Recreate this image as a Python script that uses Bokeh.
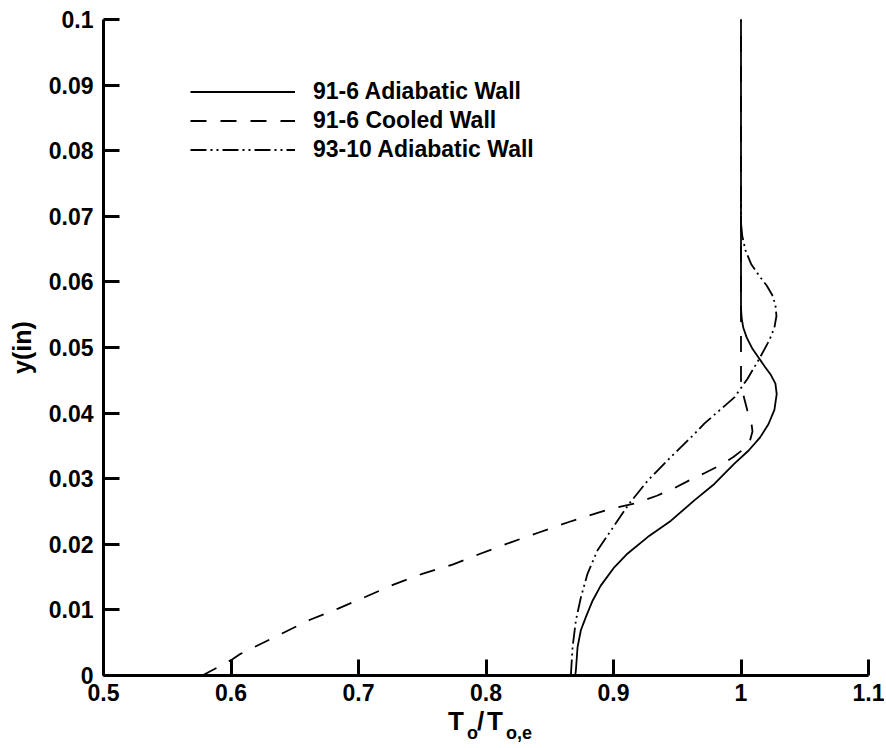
from bokeh.plotting import figure
from bokeh.models import Range1d, Legend, LegendItem, Label, FixedTicker
from bokeh.embed import file_html
from bokeh.resources import INLINE

# ---- data ----
adiab_91_x = [0.870, 0.8705, 0.8718, 0.8744, 0.8783, 0.8836, 0.890, 0.9006, 0.9111, 0.9268,
              0.9451, 0.9634, 0.9791, 0.9948, 1.0060, 1.0150, 1.0215, 1.0262, 1.0280, 1.0270,
              1.0235, 1.0190, 1.0144, 1.0090, 1.0045, 1.0018, 1.0005, 1.0, 1.0, 1.0]
adiab_91_y = [0.0, 0.0008, 0.0043, 0.0069, 0.0089, 0.0114, 0.0137, 0.0165, 0.0186, 0.0211,
              0.0236, 0.0267, 0.0292, 0.0323, 0.0343, 0.0363, 0.0383, 0.0405, 0.0429, 0.0445,
              0.0458, 0.0470, 0.0483, 0.0498, 0.0515, 0.0530, 0.0545, 0.0560, 0.0700, 0.1000]

cooled_91_x = [0.5775, 0.5997, 0.6075, 0.618, 0.640, 0.662, 0.684, 0.7057, 0.728, 0.750,
               0.7737, 0.796, 0.8195, 0.8415, 0.865, 0.8875, 0.900, 0.918, 0.934, 0.948,
               0.960, 0.972, 0.984, 0.994, 1.002, 1.007, 1.009, 1.008, 1.005, 1.0026, 1.0008,
               1.0, 1.0, 1.0]
cooled_91_y = [0.0, 0.0023, 0.0033, 0.0043, 0.0064, 0.0085, 0.0102, 0.0120, 0.0139, 0.0155,
               0.0169, 0.0186, 0.0203, 0.0218, 0.0234, 0.0248, 0.0255, 0.0263, 0.0274, 0.0286,
               0.0298, 0.0309, 0.0321, 0.0333, 0.0345, 0.0358, 0.0372, 0.0388, 0.0404, 0.0422,
               0.0436, 0.0450, 0.0600, 0.1000]

adiab_93_x = [0.8666, 0.8668, 0.8679, 0.8705, 0.8744, 0.8796, 0.8875, 0.898, 0.9123, 0.9268,
              0.945, 0.9634, 0.9712, 0.9830, 0.9948, 1.0050, 1.0144, 1.0222, 1.0262, 1.0278,
              1.0270, 1.0245, 1.0200, 1.0140, 1.0080, 1.0035, 1.0010, 1.0, 1.0]
adiab_93_y = [0.0, 0.0008, 0.0043, 0.0084, 0.0119, 0.0155, 0.0191, 0.0221, 0.0262, 0.0297,
              0.0333, 0.0368, 0.0384, 0.0404, 0.0424, 0.0452, 0.0483, 0.0511, 0.0530, 0.0548,
              0.0565, 0.0580, 0.0595, 0.0610, 0.0627, 0.0648, 0.0670, 0.0690, 0.0720]

series_names = ["91-6 Adiabatic Wall", "91-6 Cooled Wall", "93-10 Adiabatic Wall"]

x_ticks = [0.5, 0.6, 0.7, 0.8, 0.9, 1.0, 1.1]
x_tick_labels = ["0.5", "0.6", "0.7", "0.8", "0.9", "1", "1.1"]
y_ticks = [0.0, 0.01, 0.02, 0.03, 0.04, 0.05, 0.06, 0.07, 0.08, 0.09, 0.1]
y_tick_labels = ["0", "0.01", "0.02", "0.03", "0.04", "0.05", "0.06", "0.07", "0.08", "0.09", "0.1"]

FONT = "Liberation Sans"

# The axes box (0.5..1.1 x 0..0.1) spans 765 x 656 px; the frame is widened to the
# whole canvas so that tick labels and the subscripted x title are not clipped.
W, H = 884, 748
BOX_L, BOX_T, BOX_W, BOX_H = 103, 19, 765, 656
sx = BOX_W / 0.6
sy = BOX_H / 0.1
X0 = 0.5 - BOX_L / sx
X1 = 1.1 + (W - BOX_L - BOX_W) / sx
Y1 = 0.1 + BOX_T / sy
Y0 = 0.0 - (H - BOX_T - BOX_H) / sy

p = figure(width=W, height=H, output_backend="svg", toolbar_location=None,
           x_range=Range1d(X0, X1), y_range=Range1d(Y0, Y1),
           min_border_left=0, min_border_right=0, min_border_top=0, min_border_bottom=0)
p.outline_line_color = None
p.grid.visible = False
p.background_fill_color = "white"
p.border_fill_color = "white"

for ax in (p.xaxis[0], p.yaxis[0]):
    ax.axis_line_width = 3
    ax.axis_line_color = "black"
    ax.major_tick_in = 16
    ax.major_tick_out = 0
    ax.major_tick_line_width = 3
    ax.major_tick_line_color = "black"
    ax.minor_tick_line_color = None
    ax.major_label_text_font = FONT
    ax.major_label_text_font_style = "bold"
    ax.major_label_text_font_size = "23px"
    ax.major_label_text_color = "black"

p.xaxis.fixed_location = 0.0
p.xaxis.bounds = (0.5, 1.1)
p.xaxis.ticker = FixedTicker(ticks=x_ticks)
p.xaxis.major_label_overrides = {t: l for t, l in zip(x_ticks, x_tick_labels)}
p.xaxis.major_label_standoff = 8

p.yaxis.fixed_location = 0.5
p.yaxis.bounds = (0.0, 0.1)
p.yaxis.ticker = FixedTicker(ticks=y_ticks)
p.yaxis.major_label_overrides = {t: l for t, l in zip(y_ticks, y_tick_labels)}
p.yaxis.major_label_standoff = 10
p.yaxis.axis_label = "y(in)"
p.yaxis.axis_label_text_font = FONT
p.yaxis.axis_label_text_font_style = "bold"
p.yaxis.axis_label_text_font_size = "25px"
p.yaxis.axis_label_text_color = "black"
p.yaxis.axis_label_standoff = 10

r1 = p.line(adiab_91_x, adiab_91_y, line_color="black", line_width=1.8)
r2 = p.line(cooled_91_x, cooled_91_y, line_color="black", line_width=1.8, line_dash="16 14")
r3 = p.line(adiab_93_x, adiab_93_y, line_color="black", line_width=1.8, line_dash="16 4 2 4 2 4")

legend = Legend(items=[LegendItem(label=series_names[0], renderers=[r1]),
                       LegendItem(label=series_names[1], renderers=[r2]),
                       LegendItem(label=series_names[2], renderers=[r3])],
                location=(190, H - 77 - 87), glyph_width=105, glyph_height=29, label_height=29,
                label_standoff=18, padding=0, margin=0, spacing=0,
                border_line_color=None, background_fill_alpha=0,
                label_text_font=FONT, label_text_font_style="bold",
                label_text_font_size="23px", label_text_color="black")
p.add_layout(legend, "center")

# x-axis title T_o / T_o,e built from pieces (main text + subscripts)
pieces = [("T", -38, -45, "26px"), ("o", -19, -57, "18px"), ("/", -9, -45, "26px"),
          ("T", 1, -45, "26px"), ("o,e", 20, -57, "18px")]
for txt, dx, dy, fs in pieces:
    p.add_layout(Label(x=0.8, y=0.0, x_offset=dx, y_offset=dy, text=txt,
                       text_font=FONT, text_font_style="bold", text_font_size=fs,
                       text_color="black", text_align="left", text_baseline="alphabetic"))

open("out.html", "w").write(file_html(p, INLINE))
